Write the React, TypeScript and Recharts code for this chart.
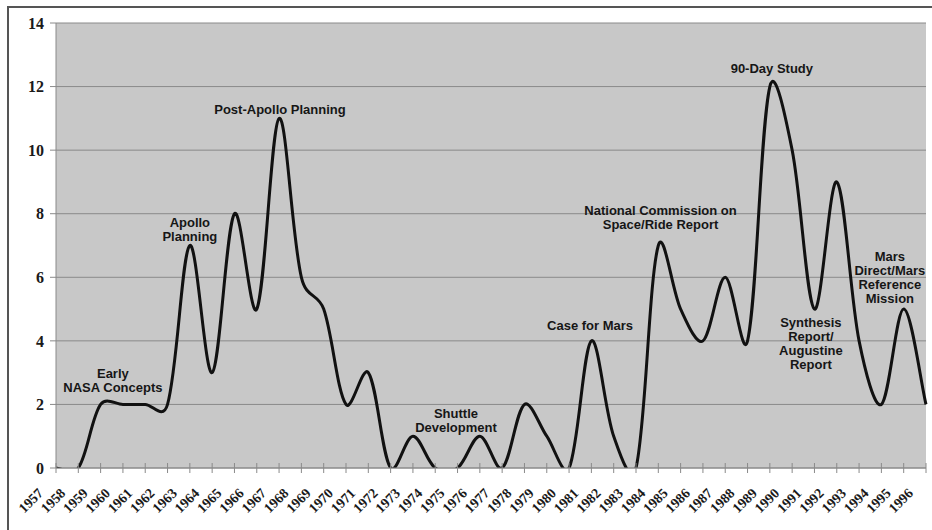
import React from "react";
import { LineChart, Line, XAxis, YAxis, CartesianGrid, ReferenceDot } from "recharts";

const years = [
  1957, 1958, 1959, 1960, 1961, 1962, 1963, 1964, 1965, 1966,
  1967, 1968, 1969, 1970, 1971, 1972, 1973, 1974, 1975, 1976,
  1977, 1978, 1979, 1980, 1981, 1982, 1983, 1984, 1985, 1986,
  1987, 1988, 1989, 1990, 1991, 1992, 1993, 1994, 1995, 1996,
];

const studies = [
  0, 0, 2, 2, 2, 2, 7, 3, 8, 5,
  11, 6, 5, 2, 3, 0, 1, 0, 0, 1,
  0, 2, 1, 0, 4, 1, 0, 7, 5, 4,
  6, 4, 12, 10, 5, 9, 4, 2, 5, 2,
];

const yTicks = [0, 2, 4, 6, 8, 10, 12, 14];

const annotationYears = [1959.55, 1963.0, 1967.04, 1974.93, 1980.94, 1984.1, 1989.09, 1994.38, 1990.84];
const annotationLevels = [2.99, 7.72, 11.29, 1.73, 4.48, 8.12, 12.58, 6.67, 4.57];
const annotationTexts = [
  ["Early", "NASA Concepts"],
  ["Apollo", "Planning"],
  ["Post-Apollo Planning"],
  ["Shuttle", "Development"],
  ["Case for Mars"],
  ["National Commission on", "Space/Ride Report"],
  ["90-Day Study"],
  ["Mars", "Direct/Mars", "Reference", "Mission"],
  ["Synthesis", "Report/", "Augustine", "Report"],
];

const data = years.map((y, i) => ({ year: y, count: studies[i] }));

// Excel-like smoothed line: cubic Beziers whose control points blend a
// uniform Catmull-Rom tangent with a chord-length-weighted one.
function smoothCurve(context: any) {
  let pts: number[][] = [];
  const dist = (a: number[], b: number[]) => Math.hypot(b[0] - a[0], b[1] - a[1]);
  return {
    areaStart() {},
    areaEnd() {},
    lineStart() {
      pts = [];
    },
    point(x: number, y: number) {
      pts.push([+x, +y]);
    },
    lineEnd() {
      const n = pts.length;
      if (!n) return;
      context.moveTo(pts[0][0], pts[0][1]);
      for (let i = 0; i < n - 1; i++) {
        const p0 = pts[Math.max(0, i - 1)];
        const p1 = pts[i];
        const p2 = pts[i + 1];
        const p3 = pts[Math.min(n - 1, i + 2)];
        const d01 = dist(p0, p1);
        const d12 = dist(p1, p2);
        const d23 = dist(p2, p3);
        const fa = d01 + d12 > 0 ? d12 / (d01 + d12) / 3 : 1 / 6;
        const fb = d12 + d23 > 0 ? d12 / (d12 + d23) / 3 : 1 / 6;
        const f1 = 0.5 / 6 + 0.5 * fa;
        const f2 = 0.5 / 6 + 0.5 * fb;
        context.bezierCurveTo(
          p1[0] + (p2[0] - p0[0]) * f1,
          p1[1] + (p2[1] - p0[1]) * f1,
          p2[0] - (p3[0] - p1[0]) * f2,
          p2[1] - (p3[1] - p1[1]) * f2,
          p2[0],
          p2[1]
        );
      }
    },
  };
}

const XTick = (props: any) => {
  const { x, y, payload } = props;
  const ax = x - 12;
  const ay = y + 26;
  return (
    <g>
      <line x1={x} x2={x} y1={y - 5} y2={y + 5} stroke="#8a8a8a" strokeWidth={1} />
      <text
        x={ax}
        y={ay}
        textAnchor="end"
        transform={`rotate(-45, ${ax}, ${ay})`}
        fontFamily="'Liberation Serif', 'Times New Roman', serif"
        fontWeight="bold"
        fontSize={14}
        fill="#1a1a1a"
      >
        {payload.value}
      </text>
    </g>
  );
};

const makeNote = (lines: string[]) => (props: any) => {
  const { cx, cy } = props;
  return (
    <text
      x={cx}
      y={cy}
      textAnchor="middle"
      fontFamily="'Liberation Sans', Arial, Helvetica, sans-serif"
      fontWeight="bold"
      fontSize={13}
      fill="#161616"
    >
      {lines.map((t, i) => (
        <tspan key={i} x={cx} dy={i === 0 ? "0.36em" : 14}>
          {t}
        </tspan>
      ))}
    </text>
  );
};

export default function App() {
  return (
    <div style={{ position: "absolute", left: 0, top: 0, width: 932, height: 530, background: "#fff" }}>
      <div
        style={{
          position: "absolute",
          left: 7,
          top: 6,
          width: 925,
          height: 524,
          borderLeft: "2px solid #555",
          borderTop: "2px solid #555",
          boxSizing: "border-box",
        }}
      />
      <div style={{ position: "absolute", left: 0, top: 0 }}>
        <LineChart width={932} height={530} data={data} margin={{ top: 23, right: 6, bottom: 7, left: 0 }}>
          <CartesianGrid fill="#c8c8c8" stroke="#8a8a8a" vertical={false} horizontal={true} />
          <Line
            dataKey="count"
            type={smoothCurve as any}
            stroke="#111"
            strokeWidth={3}
            dot={false}
            activeDot={false}
            isAnimationActive={false}
          />
          <XAxis
            dataKey="year"
            type="number"
            domain={[1957, 1996]}
            ticks={years}
            interval={0}
            height={55}
            tickSize={0}
            tickMargin={0}
            tickLine={false}
            axisLine={{ stroke: "#8a8a8a" }}
            tick={<XTick />}
          />
          <YAxis
            domain={[0, 14]}
            ticks={yTicks}
            allowDataOverflow
            width={56}
            tickSize={6}
            tickMargin={6}
            tickLine={{ stroke: "#8a8a8a" }}
            axisLine={{ stroke: "#8a8a8a" }}
            tick={{
              fontFamily: "'Liberation Serif', 'Times New Roman', serif",
              fontWeight: "bold",
              fontSize: 16,
              fill: "#1a1a1a",
            }}
          />
          {annotationTexts.map((lines, i) => (
            <ReferenceDot
              key={i}
              x={annotationYears[i]}
              y={annotationLevels[i]}
              r={0}
              ifOverflow="visible"
              shape={makeNote(lines)}
            />
          ))}
        </LineChart>
      </div>
    </div>
  );
}
